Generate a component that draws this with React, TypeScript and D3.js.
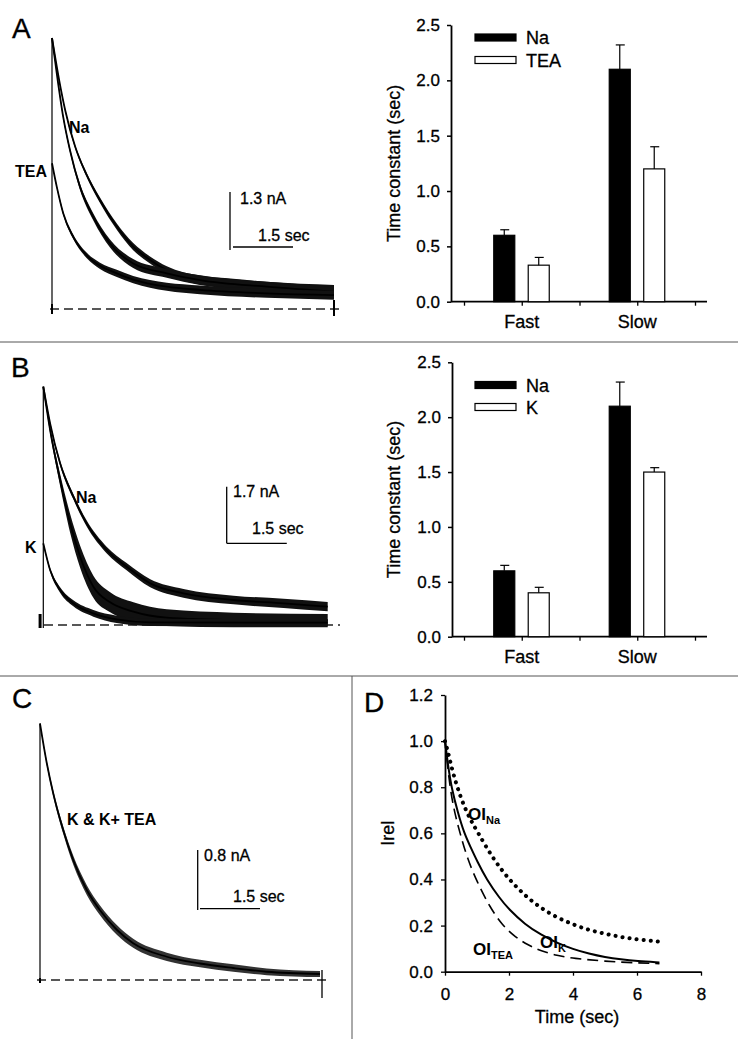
import React, { useEffect, useRef } from "react";
import * as d3 from "d3";

const FONT = "'Liberation Sans', Arial, Helvetica, sans-serif";

// ---- panel A traces (time in sec, current in nA, noise = half width of the band in nA)
const aNaTime = [0, 0.18, 0.33, 0.58, 0.85, 1.2, 1.62, 2.03, 2.45, 2.87, 3.7, 4.53, 5.37, 7.05];
const aNaCurrent = [6.08, 5.13, 4.46, 3.64, 3.04, 2.44, 1.85, 1.4, 1.1, 0.87, 0.65, 0.58, 0.5, 0.43];
const aNaNoise = [0.01, 0.02, 0.03, 0.04, 0.05, 0.06, 0.07, 0.08, 0.08, 0.09, 0.1, 0.1, 0.11, 0.11];

const aMidTime = [0, 0.12, 0.28, 0.45, 0.7, 1.03, 1.45, 2.03, 2.87, 3.7, 5.37, 7.05];
const aMidCurrent = [6.08, 5.28, 4.31, 3.56, 2.74, 2.07, 1.47, 1.02, 0.8, 0.65, 0.5, 0.39];
const aMidNoise = [0.01, 0.03, 0.04, 0.05, 0.07, 0.08, 0.09, 0.1, 0.1, 0.11, 0.11, 0.11];

const aTeaTime = [0, 0.12, 0.28, 0.53, 0.87, 1.2, 1.62, 2.03, 2.87, 3.7, 5.37, 7.05];
const aTeaCurrent = [3.27, 2.74, 2.15, 1.62, 1.2, 0.97, 0.8, 0.66, 0.5, 0.43, 0.35, 0.31];
const aTeaNoise = [0.01, 0.03, 0.04, 0.05, 0.06, 0.07, 0.08, 0.08, 0.09, 0.1, 0.1, 0.1];

// ---- panel B traces
const bNaTime = [0, 0.17, 0.42, 0.75, 1.08, 1.58, 2.08, 2.67, 3.5, 4.75, 6.0, 7.1];
const bNaCurrent = [7.15, 6.05, 4.85, 3.85, 3.05, 2.25, 1.75, 1.25, 0.95, 0.75, 0.65, 0.55];
const bNaNoise = [0.02, 0.05, 0.07, 0.08, 0.09, 0.1, 0.11, 0.12, 0.13, 0.13, 0.14, 0.14];

const bMidTime = [0, 0.17, 0.42, 0.67, 0.92, 1.25, 1.67, 2.25, 3.08, 4.75, 7.1];
const bMidCurrent = [7.15, 5.85, 4.35, 3.05, 2.05, 1.15, 0.68, 0.4, 0.22, 0.15, 0.13];
const bMidNoise = [0.03, 0.1, 0.18, 0.28, 0.33, 0.33, 0.3, 0.28, 0.25, 0.22, 0.2];

const bKTime = [0, 0.17, 0.42, 0.75, 1.25, 1.83, 2.67, 7.1];
const bKCurrent = [2.45, 1.65, 1.05, 0.65, 0.35, 0.17, 0.08, 0.07];
const bKNoise = [0.03, 0.06, 0.08, 0.09, 0.1, 0.11, 0.11, 0.11];

// ---- panel C trace (K and K + TEA superimposed)
const cTime = [0, 0.17, 0.33, 0.58, 0.83, 1.17, 1.5, 1.92, 2.33, 3.17, 4.0, 4.83, 5.67, 7.0];
const cCurrent = [3.42, 2.89, 2.49, 2.0, 1.6, 1.2, 0.93, 0.67, 0.49, 0.31, 0.22, 0.16, 0.11, 0.08];
const cNoise = [0.01, 0.03, 0.04, 0.05, 0.06, 0.065, 0.065, 0.065, 0.06, 0.055, 0.05, 0.05, 0.045, 0.04];

// ---- bar charts (time constants, sec)
const barGroups = ["Fast", "Slow"];
const barYTicks = [0, 0.5, 1.0, 1.5, 2.0, 2.5];
const naTau = [0.6, 2.1];
const naTauErr = [0.05, 0.22];
const teaTau = [0.33, 1.2];
const teaTauErr = [0.07, 0.2];
const kTau = [0.4, 1.5];
const kTauErr = [0.05, 0.04];

// ---- panel D (relative current)
const dNaTime = [0, 0.1, 0.25, 0.5, 0.75, 1.0, 1.5, 2.0, 2.5, 3.0, 3.5, 4.0, 4.5, 5.0, 5.5, 6.0, 6.7];
const dNaRel = [1.0, 0.95, 0.86, 0.75, 0.67, 0.61, 0.49, 0.4, 0.33, 0.275, 0.235, 0.205, 0.18, 0.165, 0.15, 0.14, 0.13];
const dKTime = [0, 0.1, 0.2, 0.4, 0.6, 0.8, 1.0, 1.3, 1.7, 2.0, 2.5, 3.0, 3.5, 4.0, 4.5, 5.0, 5.5, 6.0, 6.7];
const dKRel = [1.0, 0.89, 0.8, 0.69, 0.6, 0.54, 0.48, 0.4, 0.32, 0.27, 0.205, 0.16, 0.125, 0.098, 0.078, 0.063, 0.053, 0.046, 0.04];
const dTeaTime = [0, 0.15, 0.3, 0.47, 0.7, 1.0, 1.4, 1.8, 2.2, 2.6, 3.0, 3.5, 4.0, 5.0, 6.0, 6.7];
const dTeaRel = [1.0, 0.8, 0.69, 0.6, 0.49, 0.39, 0.28, 0.2, 0.15, 0.115, 0.09, 0.07, 0.058, 0.045, 0.038, 0.035];
const dXTicks = [0, 2, 4, 6, 8];
const dYTicks = [0, 0.2, 0.4, 0.6, 0.8, 1.0, 1.2];

function zip(t: number[], v: number[], n?: number[]) {
  return t.map((tt, i) => ({ t: tt, v: v[i], n: n ? n[i] : 0 }));
}

// plain text, slightly thickened to match the scanned figure
function txt(g: any, x: number, y: number, s: string, size: number) {
  return g.append("text").attr("x", x).attr("y", y)
    .attr("font-size", size).attr("font-family", FONT)
    .attr("stroke", "#000").attr("stroke-width", 0.3).text(s);
}

function drawTracePanel(svg: any, p: any) {
  const x = d3.scaleLinear().domain([0, p.tEnd]).range([p.x0, p.x1]);
  const y = d3.scaleLinear().domain([0, p.iMax]).range([p.yBase, p.yTop]);
  const g = svg.append("g");

  // zero current reference
  g.append("line")
    .attr("x1", p.dashX0).attr("x2", p.dashX1)
    .attr("y1", y(0)).attr("y2", y(0))
    .attr("stroke", "#222").attr("stroke-width", 1.3)
    .attr("stroke-dasharray", "9,5");

  // onset (vertical jump)
  g.append("line")
    .attr("x1", x(0)).attr("x2", x(0))
    .attr("y1", y(0) + 3).attr("y2", y(p.iMax))
    .attr("stroke", "#000").attr("stroke-width", 1.2);

  p.traces.forEach((tr: any) => {
    const pts = zip(tr.t, tr.v, tr.n);
    const band = d3.area<any>()
      .x(d => x(d.t))
      .y0(d => y(d.v - d.n))
      .y1(d => y(d.v + d.n))
      .curve(d3.curveMonotoneX);
    g.append("path").datum(pts).attr("d", band).attr("fill", p.bandFill);
    const line = d3.line<any>().x(d => x(d.t)).y(d => y(d.v)).curve(d3.curveMonotoneX);
    g.append("path").datum(pts).attr("d", line)
      .attr("fill", "none").attr("stroke", "#000").attr("stroke-width", 1.8);
  });

  // artefacts at the start / end of the sweep
  p.marks.forEach((m: any) => {
    g.append("line")
      .attr("x1", x(m.t)).attr("x2", x(m.t))
      .attr("y1", y(0) - m.up).attr("y2", y(0) + m.down)
      .attr("stroke", "#000").attr("stroke-width", m.w);
  });

  // scale bars
  const sb = p.scale;
  g.append("line")
    .attr("x1", sb.vx).attr("x2", sb.vx)
    .attr("y1", sb.vTop).attr("y2", sb.vTop + (y(0) - y(sb.nA)))
    .attr("stroke", "#000").attr("stroke-width", 1.3);
  g.append("line")
    .attr("x1", sb.hx).attr("x2", sb.hx + (x(sb.sec) - x(0)))
    .attr("y1", sb.hy).attr("y2", sb.hy)
    .attr("stroke", "#000").attr("stroke-width", 1.3);
  txt(g, sb.nAx, sb.nAy, `${sb.nA} nA`, 16);
  txt(g, sb.secx, sb.secy, `${sb.sec} sec`, 16);

  p.labels.forEach((l: any) => {
    g.append("text").attr("x", l.x).attr("y", l.y)
      .attr("font-size", l.size || 16).attr("font-weight", "bold")
      .attr("font-family", FONT).text(l.text);
  });
}

function drawBarPanel(svg: any, p: any) {
  const x = d3.scaleLinear().domain([0, 4]).range([464, 695]);
  const y = d3.scaleLinear().domain([0, 2.5]).range([p.yBase, p.yTop]);
  const inner = d3.scaleBand().domain(["a", "b"]).range([-28, 27.5]).paddingInner(0.39);
  const g = svg.append("g");

  const yAxis = d3.axisLeft(y).tickValues(barYTicks).tickFormat(d3.format(".1f"))
    .tickSize(4).tickSizeOuter(0).tickPadding(7);
  const ga = g.append("g").attr("transform", `translate(${p.axisX},0)`).call(yAxis);
  ga.attr("font-size", 17).attr("font-family", FONT);
  ga.selectAll("text").attr("stroke", "#000").attr("stroke-width", 0.3);
  ga.selectAll("line").attr("stroke-width", 1.5);
  ga.select(".domain").attr("stroke-width", 1.8);

  const xAxis = d3.axisBottom(x).tickValues([0, 1, 2, 3, 4]).tickFormat(() => "").tickSize(4).tickSizeOuter(0);
  const gx = g.append("g").attr("transform", `translate(0,${p.yBase})`).call(xAxis);
  gx.select(".domain").remove();
  gx.selectAll("line").attr("stroke-width", 1.3);
  g.append("line").attr("x1", p.axisX).attr("x2", 707)
    .attr("y1", p.yBase).attr("y2", p.yBase)
    .attr("stroke", "#000").attr("stroke-width", 1.8);

  barGroups.forEach((cat, i) => {
    const cx = x(2 * i + 1);
    const series = [
      { v: naTau[i], e: naTauErr[i], fill: "#000", key: "a" },
      { v: p.other[i], e: p.otherErr[i], fill: "#fff", key: "b" },
    ];
    series.forEach(s => {
      const bx = cx + (inner(s.key) as number);
      const bw = inner.bandwidth();
      g.append("rect").attr("x", bx).attr("y", y(s.v))
        .attr("width", bw).attr("height", y(0) - y(s.v))
        .attr("fill", s.fill).attr("stroke", "#000").attr("stroke-width", 1.2);
      const mx = bx + bw / 2;
      g.append("line").attr("x1", mx).attr("x2", mx)
        .attr("y1", y(s.v)).attr("y2", y(s.v + s.e))
        .attr("stroke", "#000").attr("stroke-width", 1.2);
      g.append("line").attr("x1", mx - 4).attr("x2", mx + 5)
        .attr("y1", y(s.v + s.e)).attr("y2", y(s.v + s.e))
        .attr("stroke", "#000").attr("stroke-width", 1.2);
    });
    txt(g, cx, p.yBase + 26, cat, 18).attr("text-anchor", "middle");
  });

  txt(g, 0, 0, "Time constant (sec)", 18)
    .attr("transform", `translate(394,${(p.yBase + p.yTop) / 2}) rotate(-90)`)
    .attr("text-anchor", "middle").attr("dy", "0.35em");

  // legend
  p.legend.forEach((l: any, i: number) => {
    g.append("rect").attr("x", 475).attr("y", l.y).attr("width", 41).attr("height", 7)
      .attr("fill", i === 0 ? "#000" : "#fff").attr("stroke", "#000").attr("stroke-width", 1.2);
    txt(g, 526, l.y + 10, l.text, 18);
  });
}

function drawPanelD(svg: any) {
  const x = d3.scaleLinear().domain([0, 8]).range([445, 701]);
  const y = d3.scaleLinear().domain([0, 1.2]).range([971.7, 695]);
  const g = svg.append("g");

  const gy = g.append("g").attr("transform", "translate(445,0)")
    .call(d3.axisLeft(y).tickValues(dYTicks).tickFormat(d3.format(".1f")).tickSize(4).tickSizeOuter(0).tickPadding(8));
  gy.attr("font-size", 17).attr("font-family", FONT);
  gy.selectAll("text").attr("stroke", "#000").attr("stroke-width", 0.3);
  gy.select(".domain").attr("stroke-width", 1.8);
  gy.selectAll("line").attr("stroke-width", 1.3);

  const gx = g.append("g").attr("transform", "translate(0,971.7)")
    .call(d3.axisBottom(x).tickValues(dXTicks).tickFormat(d3.format("d")).tickSize(4).tickSizeOuter(0).tickPadding(12));
  gx.attr("font-size", 17).attr("font-family", FONT);
  gx.selectAll("text").attr("stroke", "#000").attr("stroke-width", 0.3);
  gx.select(".domain").attr("stroke-width", 1.8);
  gx.selectAll("line").attr("stroke-width", 1.3);

  const line = d3.line<any>().x(d => x(d.t)).y(d => y(d.v)).curve(d3.curveBasis);
  g.append("path").datum(zip(dNaTime, dNaRel)).attr("d", line)
    .attr("fill", "none").attr("stroke", "#000").attr("stroke-width", 4)
    .attr("stroke-linecap", "round").attr("stroke-dasharray", "0.1,7");
  g.append("path").datum(zip(dKTime, dKRel)).attr("d", line)
    .attr("fill", "none").attr("stroke", "#000").attr("stroke-width", 2);
  g.append("path").datum(zip(dTeaTime, dTeaRel)).attr("d", line)
    .attr("fill", "none").attr("stroke", "#000").attr("stroke-width", 1.6)
    .attr("stroke-dasharray", "11,6");

  const labels = [
    { main: "OI", sub: "Na", x: 468, y: 820 },
    { main: "OI", sub: "K", x: 540, y: 948 },
    { main: "OI", sub: "TEA", x: 473, y: 955 },
  ];
  labels.forEach(l => {
    const t = g.append("text").attr("x", l.x).attr("y", l.y)
      .attr("font-family", FONT).attr("font-weight", "bold").attr("font-size", 17);
    t.append("tspan").text(l.main);
    t.append("tspan").attr("dy", 4).attr("font-size", 11).text(l.sub);
  });

  txt(g, 0, 0, "Irel", 18)
    .attr("transform", `translate(388,${(971.7 + 695) / 2}) rotate(-90)`)
    .attr("text-anchor", "middle").attr("dy", "0.35em");
  txt(g, 577, 1023, "Time (sec)", 18).attr("text-anchor", "middle");
}

export default function App() {
  const ref = useRef<SVGSVGElement>(null);

  useEffect(() => {
    const svg = d3.select(ref.current);
    svg.selectAll("*").remove();

    svg.append("rect").attr("width", 738).attr("height", 1039).attr("fill", "#fff");

    // panel separators
    svg.append("line").attr("x1", 0).attr("x2", 738).attr("y1", 342).attr("y2", 342)
      .attr("stroke", "#555").attr("stroke-width", 1);
    svg.append("line").attr("x1", 0).attr("x2", 738).attr("y1", 676).attr("y2", 676)
      .attr("stroke", "#555").attr("stroke-width", 1);
    svg.append("line").attr("x1", 352).attr("x2", 352).attr("y1", 676).attr("y2", 1039)
      .attr("stroke", "#555").attr("stroke-width", 1);

    const panelLetters = [
      { t: "A", x: 12, y: 38 },
      { t: "B", x: 11, y: 377 },
      { t: "C", x: 12, y: 708 },
      { t: "D", x: 364, y: 712 },
    ];
    panelLetters.forEach(l => {
      txt(svg, l.x, l.y, l.t, 28);
    });

    drawTracePanel(svg, {
      tEnd: 7.05, x0: 52, x1: 334, iMax: 6.08, yBase: 309, yTop: 38,
      dashX0: 50, dashX1: 341, bandFill: "#111",
      traces: [
        { t: aNaTime, v: aNaCurrent, n: aNaNoise },
        { t: aMidTime, v: aMidCurrent, n: aMidNoise },
        { t: aTeaTime, v: aTeaCurrent, n: aTeaNoise },
      ],
      marks: [{ t: 0, up: 5, down: 5, w: 2 }, { t: 7.05, up: 9, down: 7, w: 2 }],
      scale: { nA: 1.3, sec: 1.5, vx: 230, vTop: 192, hx: 233, hy: 247, nAx: 240, nAy: 204, secx: 258, secy: 241 },
      labels: [{ text: "Na", x: 69, y: 133 }, { text: "TEA", x: 15, y: 177 }],
    });

    drawTracePanel(svg, {
      tEnd: 7.1, x0: 43.3, x1: 327.7, iMax: 7.15, yBase: 625, yTop: 386.7,
      dashX0: 44, dashX1: 340, bandFill: "#111",
      traces: [
        { t: bNaTime, v: bNaCurrent, n: bNaNoise },
        { t: bMidTime, v: bMidCurrent, n: bMidNoise },
        { t: bKTime, v: bKCurrent, n: bKNoise },
      ],
      marks: [{ t: -0.08, up: 11, down: 3, w: 3 }],
      scale: { nA: 1.7, sec: 1.5, vx: 226.7, vTop: 486.7, hx: 226.7, hy: 543.3, nAx: 233, nAy: 497, secx: 252, secy: 534 },
      labels: [{ text: "Na", x: 76, y: 503 }, { text: "K", x: 25, y: 553 }],
    });

    drawTracePanel(svg, {
      tEnd: 7.05, x0: 40, x1: 322, iMax: 3.42, yBase: 980, yTop: 723.5,
      dashX0: 37, dashX1: 327, bandFill: "#333",
      traces: [{ t: cTime, v: cCurrent, n: cNoise }],
      marks: [{ t: 0, up: 2, down: 3, w: 2 }, { t: 7.05, up: 10, down: 18, w: 1.3 }],
      scale: { nA: 0.8, sec: 1.5, vx: 197.7, vTop: 850, hx: 200, hy: 908.7, nAx: 204, nAy: 861, secx: 233, secy: 902 },
      labels: [{ text: "K & K+ TEA", x: 67, y: 825 }],
    });

    drawBarPanel(svg, {
      yBase: 301.7, yTop: 25, axisX: 451,
      other: teaTau, otherErr: teaTauErr,
      legend: [{ text: "Na", y: 34 }, { text: "TEA", y: 56.5 }],
    });

    drawBarPanel(svg, {
      yBase: 636.7, yTop: 362.3, axisX: 452,
      other: kTau, otherErr: kTauErr,
      legend: [{ text: "Na", y: 381.5 }, { text: "K", y: 403.5 }],
    });

    drawPanelD(svg);
  }, []);

  return (
    <svg
      ref={ref}
      width={738}
      height={1039}
      style={{ position: "absolute", left: 0, top: 0, display: "block" }}
    />
  );
}
